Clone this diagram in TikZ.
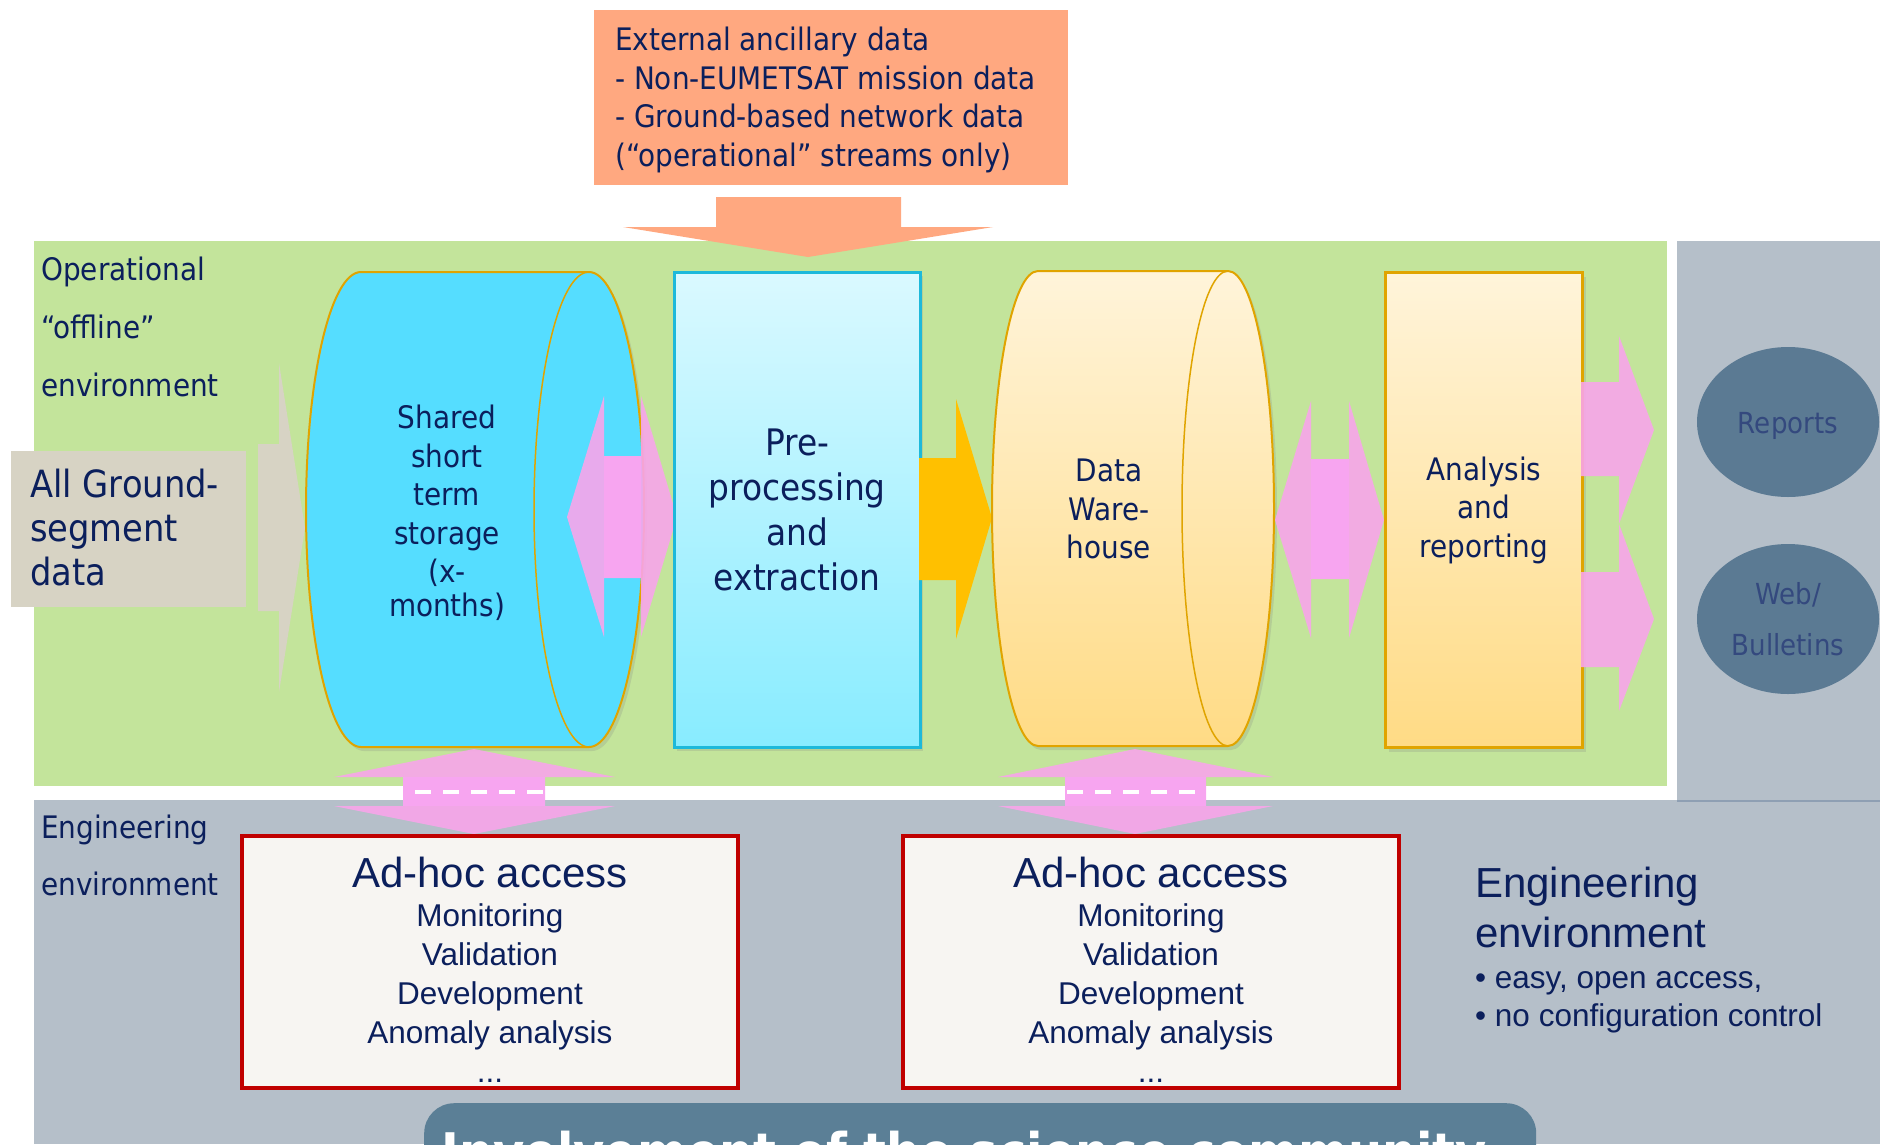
\documentclass[tikz,border=0pt]{standalone}
\usepackage{fontspec}
\setmainfont{DejaVu Sans}[FakeStretch=0.9]
\newfontfamily\arialf{Liberation Sans}
\usetikzlibrary{shadows,shapes.geometric}
\definecolor{navy}{HTML}{0B1F5C}
\definecolor{opgreen}{HTML}{C3E49B}
\definecolor{enggrey}{HTML}{B5BFC9}
\definecolor{panelline}{HTML}{8E9FB3}
\definecolor{beige}{HTML}{D7D3C4}
\definecolor{salmon}{HTML}{FFA880}
\definecolor{cyanfill}{HTML}{55DDFF}
\definecolor{goldline}{HTML}{E0A400}
\definecolor{cream}{HTML}{FFF4DA}
\definecolor{butter}{HTML}{FFDB85}
\definecolor{icetop}{HTML}{DAF9FF}
\definecolor{icebot}{HTML}{88ECFF}
\definecolor{iceline}{HTML}{1DB9DA}
\definecolor{pinkarrow}{HTML}{F8A5EA}
\definecolor{pinkshaft}{HTML}{F7A5F0}
\definecolor{goldarrow}{HTML}{FFC000}
\definecolor{slate}{HTML}{5B7A93}
\definecolor{slatetext}{HTML}{34497E}
\definecolor{adred}{HTML}{C00000}
\definecolor{adfill}{HTML}{F7F5F2}
\definecolor{science}{HTML}{5B7F96}
\newcommand\szA{\fontsize{31}{38.5}\selectfont}
\begin{document}
\begin{tikzpicture}[x=1pt,y=-1pt,
  lbl/.style={text=navy,inner sep=0pt,font=\szA},
  cshadow/.style={drop shadow={opacity=0.22,shadow xshift=3pt,shadow yshift=-4pt}},
  pinkblock/.style={fill=pinkarrow,fill opacity=0.9},
  shaftfill/.style={fill=pinkshaft},
  cylline/.style={draw=goldline,line width=2pt},
  dashline/.style={draw=white,line width=4.5pt,dash pattern=on 16pt off 12pt},
  adbox/.style={draw=adred,line width=4pt,fill=adfill,minimum width=496pt,minimum height=252pt,inner sep=0pt},
  adtext/.style={inner sep=0pt,text=navy,align=center,font=\arialf\fontsize{31.5}{39}\selectfont},
  orb/.style={ellipse,fill=slate,minimum width=182pt,minimum height=150pt,inner sep=0pt,text=slatetext,align=center,font=\fontsize{29}{51}\selectfont}
]
\useasboundingbox (0,0) rectangle (1880,1144);
\clip (0,0) rectangle (1880,1144);
% backgrounds
\fill[white] (0,0) rectangle (1880,1144);
\fill[opgreen] (34,241) rectangle (1667,786);
\fill[enggrey] (34,800) rectangle (1880,1144);
\fill[enggrey] (1677,241) rectangle (1880,801);
\draw[panelline,line width=1.2pt] (1677,801) -- (1880,801);

% external ancillary data
\node[fill=salmon,minimum width=474pt,minimum height=175pt,inner sep=0pt,anchor=north west] (ext) at (594,10) {};
\node[lbl,align=left,anchor=west] (extt) at (615,99.7) {External ancillary data\\- Non-EUMETSAT mission data\\- Ground-based network data\\(“operational” streams only)};
\fill[salmon] (716,197) -- (901,197) -- (901,227) -- (993,227) -- (808,257) -- (623,227) -- (716,227) -- cycle;

% operational label
\node[lbl,font=\fontsize{31}{58}\selectfont,align=left,anchor=west] (opl) at (41,326.5) {Operational\\“offline”\\environment};

% all ground-segment data
\node[fill=beige,minimum width=235pt,minimum height=156pt,inner sep=0pt,anchor=north west] (gsd) at (11,451) {};
\node[lbl,font=\fontsize{37.5}{44}\selectfont,align=left,anchor=west] (gsdt) at (30,527.7) {All Ground-\\segment\\data};
\fill[beige] (258,444) -- (279,444) -- (279,363) -- (305,528) -- (279,692) -- (279,611) -- (258,611) -- cycle;

% cylinder 1
\path[cylline,fill=cyanfill,cshadow] (589,272) arc[start angle=-90,end angle=90,x radius=55,y radius=237.5] -- (361,747) arc[start angle=90,end angle=270,x radius=55,y radius=237.5] -- cycle;
\draw[goldline,line width=1.5pt] (589,272) arc[start angle=270,end angle=90,x radius=55,y radius=237.5];
\node[lbl,align=center] (sst) at (447,513) {Shared\\short\\term\\storage\\(x-\\[-4.5pt]months)};

% pink arrow 1
\path[pinkblock] (567,517) -- (604,396) -- (604,456) -- (641,456) -- (641,396) -- (677,517) -- (641,637) -- (641,578) -- (604,578) -- (604,637) -- cycle;
\fill[shaftfill] (604,456) rectangle (641,578);

% pre-processing
\node[draw=iceline,line width=2.5pt,top color=icetop,bottom color=icebot,minimum width=246pt,minimum height=475pt,inner sep=0pt,anchor=north west,cshadow,text=navy,align=center,font=\fontsize{36.5}{45}\selectfont] (pre) at (673,271) {Pre-\\processing\\and\\extraction};

% gold arrow
\fill[goldarrow] (919,458) -- (956,458) -- (956,399) -- (992,518) -- (956,639) -- (956,580) -- (919,580) -- cycle;

% cylinder 2
\path[cylline,top color=cream,bottom color=butter,cshadow] (1228,271) arc[start angle=-90,end angle=90,x radius=46,y radius=237.5] -- (1038,746) arc[start angle=90,end angle=270,x radius=46,y radius=237.5] -- cycle;
\draw[goldline,line width=1.5pt] (1228,271) arc[start angle=270,end angle=90,x radius=46,y radius=237.5];
\node[lbl,align=center] (dwh) at (1109,509) {Data\\Ware-\\house};

% pink arrow 2
\path[pinkblock] (1275,520) -- (1311,401) -- (1311,459) -- (1349,459) -- (1349,401) -- (1384,520) -- (1349,638) -- (1349,579) -- (1311,579) -- (1311,638) -- cycle;
\fill[shaftfill] (1311,459) rectangle (1349,579);

% analysis
\node[draw=goldline,line width=3pt,top color=cream,bottom color=butter,minimum width=197pt,minimum height=475pt,anchor=north west,cshadow,lbl,align=center] (ana) at (1384,271) {Analysis\\and\\reporting};

% output arrows
\path[pinkblock] (1581,382) -- (1619,382) -- (1619,336) -- (1654,430) -- (1619,524) -- (1619,476) -- (1581,476) -- cycle;
\path[pinkblock] (1581,572) -- (1619,572) -- (1619,524) -- (1654,619) -- (1619,711) -- (1619,667) -- (1581,667) -- cycle;

% outputs
\node[orb,text height=22pt,text depth=0pt] (rep) at (1788,422) {Reports};
\node[orb] (web) at (1788,619) {Web/\\Bulletins};

% vertical double arrows
\path[pinkblock] (474,749) -- (615,777) -- (545,777) -- (545,806) -- (615,806) -- (474,834) -- (334,806) -- (403,806) -- (403,777) -- (334,777) -- cycle;
\fill[shaftfill] (403,777) rectangle (545,806);
\path[pinkblock] (1135,749) -- (1273,777) -- (1206,777) -- (1206,806) -- (1273,806) -- (1135,834) -- (998,806) -- (1065,806) -- (1065,777) -- (998,777) -- cycle;
\fill[shaftfill] (1065,777) rectangle (1206,806);
\draw[dashline] (415,792) -- (546,792);
\draw[dashline] (1067,792) -- (1206,792);

% engineering environment
\node[lbl,font=\fontsize{31}{57}\selectfont,align=left,anchor=west] (engl) at (41,855.7) {Engineering\\environment};
\node[adbox] (ad1) at (490,962) {};
\node[adtext] (ad1t) at (490,970) {{\fontsize{42}{39}\selectfont Ad-hoc access}\\Monitoring\\Validation\\Development\\Anomaly analysis\\...};
\node[adbox] (ad2) at (1151,962) {};
\node[adtext] (ad2t) at (1151,970) {{\fontsize{42}{39}\selectfont Ad-hoc access}\\Monitoring\\Validation\\Development\\Anomaly analysis\\...};
\node[text=navy,inner sep=0pt,align=left,anchor=west,font=\arialf\fontsize{42}{50}\selectfont] (engr) at (1475,949.8) {Engineering\\environment\\[-9pt]{\fontsize{31.5}{38}\selectfont\textbullet\ easy, open access,}\\[-12pt]{\fontsize{31.5}{38}\selectfont\textbullet\ no configuration control}};

% science community
\node[fill=science,rounded corners=30pt,minimum width=1112pt,minimum height=140pt,inner sep=0pt,anchor=north west] (sci) at (424,1103) {};
\node[anchor=base west,inner sep=0pt,text=white,font=\bfseries\fontsize{53.2}{60}\selectfont] (scit) at (441,1171) {Involvement of the science community};
\end{tikzpicture}
\end{document}
